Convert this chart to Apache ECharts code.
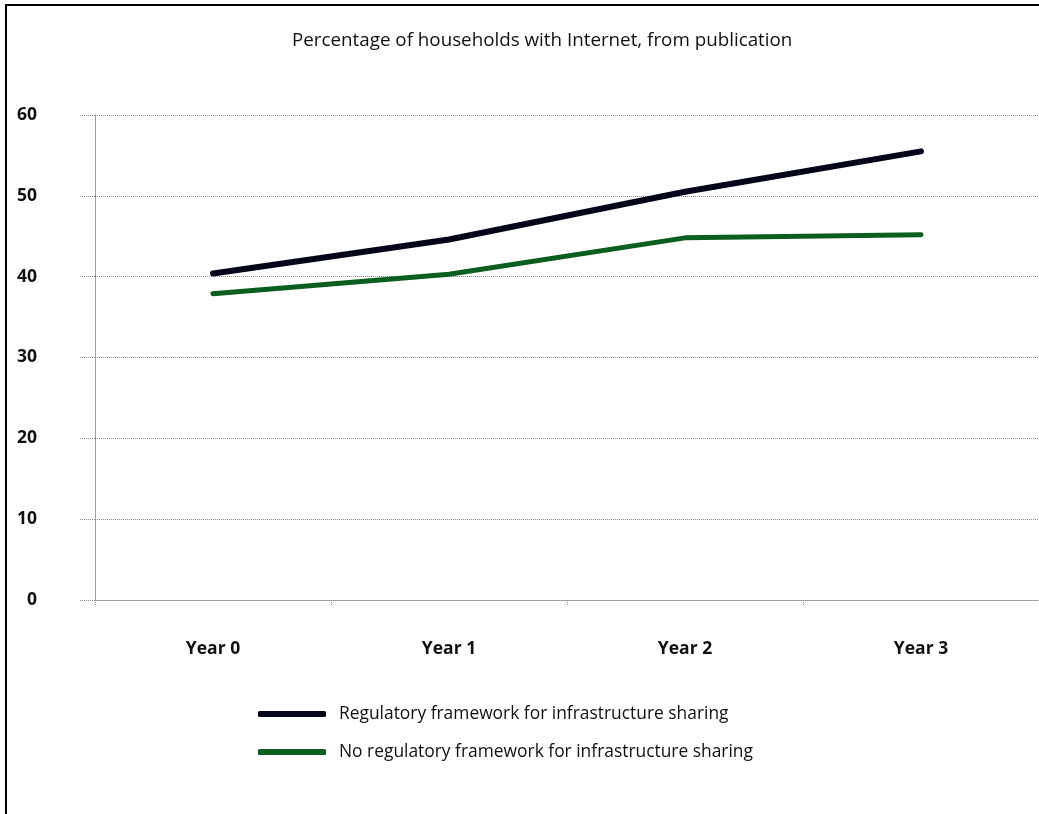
<!DOCTYPE html>
<html>
<head>
<meta charset="utf-8">
<style>
  html, body { margin: 0; padding: 0; background: #ffffff; }
  #chart { width: 1039px; height: 814px; }
  #frame { position: absolute; left: 5px; top: 4px; width: 1034px; height: 810px;
           border-left: 2px solid #000; border-top: 2px solid #000; box-sizing: border-box; pointer-events: none; }
</style>
<script src="https://cdn.jsdelivr.net/npm/echarts@6/dist/echarts.min.js"></script>
</head>
<body>
<div id="chart"></div>
<div id="frame"></div>
<script>
// Household Internet penetration over the years following publication
const years = ['Year 0', 'Year 1', 'Year 2', 'Year 3'];
const withFramework = [40.4, 44.6, 50.5, 55.5];
const withoutFramework = [37.9, 40.3, 44.8, 45.2];
const seriesNames = [
  'Regulatory framework for infrastructure sharing',
  'No regulatory framework for infrastructure sharing'
];
const titleText = 'Percentage of households with Internet, from publication';

const font = '"Open Sans", "Noto Sans", sans-serif';
const dotted = { color: '#8a8a8a', width: 1, type: [1, 1] };

const chart = echarts.init(document.getElementById('chart'), null, { renderer: 'canvas' });
chart.setOption({
  backgroundColor: '#ffffff',
  animation: false,
  title: {
    text: titleText,
    left: 287,
    top: 26,
    textStyle: { fontFamily: font, fontSize: 18.8, fontWeight: 'normal', color: '#111' }
  },
  grid: { left: 95, right: 0, top: 115, bottom: 214 },
  legend: {
    orient: 'vertical',
    left: 253,
    top: 699,
    itemWidth: 68,
    itemHeight: 6,
    itemGap: 18,
    icon: 'roundRect',
    textStyle: { fontFamily: font, fontSize: 17.4, color: '#111', lineHeight: 20, padding: [0, 0, 0, 8] },
    data: seriesNames
  },
  xAxis: {
    type: 'category',
    data: years,
    boundaryGap: true,
    axisLine: { show: true, lineStyle: dotted },
    axisTick: { show: true, length: 6, lineStyle: dotted, alignWithLabel: false },
    axisLabel: { fontFamily: font, fontSize: 17.5, fontWeight: 'bold', color: '#111', margin: 40 },
    splitLine: { show: false }
  },
  yAxis: {
    type: 'value',
    min: 0,
    max: 60,
    interval: 10,
    axisLine: { show: true, lineStyle: dotted },
    axisTick: { show: true, length: 16, lineStyle: dotted },
    axisLabel: { fontFamily: font, fontSize: 17.5, fontWeight: 'bold', color: '#111', margin: 58, align: 'right' },
    splitLine: { show: true, lineStyle: dotted }
  },
  series: [
    {
      name: seriesNames[0],
      type: 'line',
      data: withFramework,
      symbol: 'none',
      color: '#05051a',
      lineStyle: { width: 6, color: '#05051a', cap: 'round', join: 'round' },
      z: 3
    },
    {
      name: seriesNames[1],
      type: 'line',
      data: withoutFramework,
      symbol: 'none',
      color: '#0a5e1e',
      lineStyle: { width: 5, color: '#0a5e1e', cap: 'round', join: 'round' },
      z: 2
    }
  ]
});
</script>
</body>
</html>
